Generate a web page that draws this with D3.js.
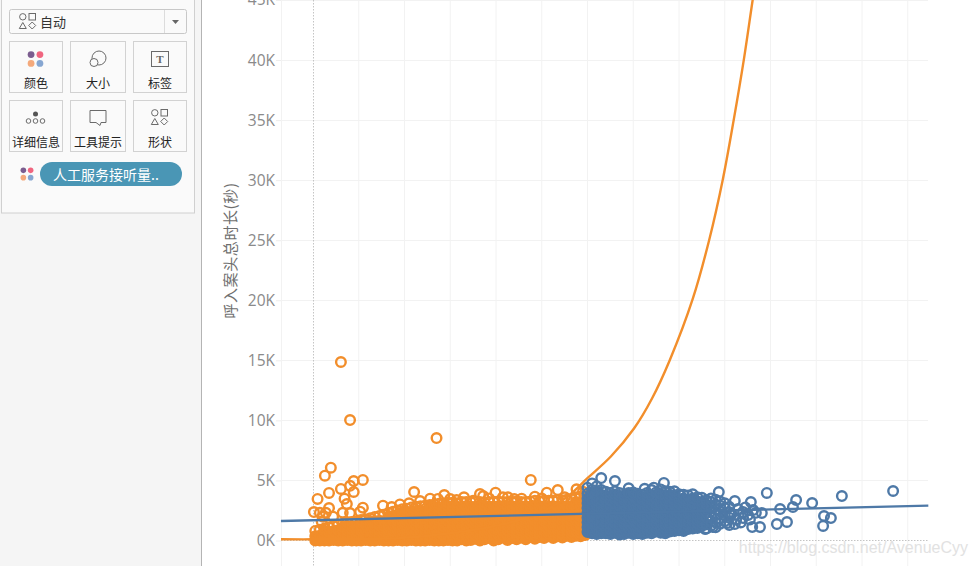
<!DOCTYPE html>
<html><head><meta charset="utf-8">
<script src="https://cdn.jsdelivr.net/npm/d3@7/dist/d3.min.js"></script>
<style>html,body{margin:0;padding:0;background:#fff;overflow:hidden}svg{display:block}</style>
</head><body><svg id="c" width="977" height="566"></svg>
<script>
const yTicks = [0,5,10,15,20,25,30,35,40,45];
const xGrid = [100,200,300,400,500,600,700,800,900,1000,1100,1200,1300];
const yTitle = "呼入案头总时长(秒)";
const pillText = "人工服务接听量..";
const cardLabels = ["颜色","大小","标签","详细信息","工具提示","形状"];
const orangeTrend = [[-70,.1],[0,.1],[190,.2],[300,.6],[409,1.3],[496,2.3],[555,3.62],[601,5.23],[651,6.99],[702,9.34],[741,11.82],[780,15.03],[830,20.11],[866,25.02],[896,30.1],[920,35.1],[942,40.1],[961,45],[975,48.5]];
const blueTrend = [[-70,1.62],[1345,2.9]];
const orangeOutliers = [[61,14.86],[81,10.03],[270,8.53],[39,6.06],[26,5.4],[109,5.04],[89,4.95],[81,4.56],[61,4.29],[89,4.04],[35,3.96],[10,3.46],[69,3.48],[74,3.04],[35,2.7],[109,2.73],[2,2.37],[15,2.31],[28,2.31],[65,2.31],[81,2.29],[103,2.4],[22,1.98],[44,1.98],[19,1.56],[221,4.04],[476,5.04],[399,3.98],[511,3.98],[535,4.2],[365,3.87],[372,3.7],[287,3.79],[256,3.48],[234,3.29],[210,3.1],[190,3],[153,2.9],[172,2.79],[314,3.37],[330,3.6],[415,3.6],[426,3.6],[456,3.48],[485,3.65],[576,4.26],[590,4.06],[273,3.46],[350,3.3],[300,3.45],[385,3.5],[440,3.45],[500,3.5],[550,3.6]];
const orangeColumns = [
[5,[0,.35,.8]],[15,[0,.4,.9]],[25,[0,.4,.8,1.0]],[35,[0,.4,.7,1.1]],[45,[.05,.45,.8,1.2]],[55,[0,.4,.85,1.3]],[65,[0,.4,.8,1.1,1.4]],[75,[.05,.4,.8,1.2,1.5]],
[85,[0,.45,.9,1.2,1.55]],[95,[0,.4,.8,1.2,1.6]],[105,[0,.4,.8,1.25,1.7]],[115,[.05,.4,.85,1.3,1.75]],[125,[0,.4,.8,1.2,1.6,1.85]],[135,[0,.4,.8,1.2,1.6,1.95]],[145,[.05,.45,.8,1.25,1.65,2.05]],[155,[0,.4,.8,1.2,1.6,2.15]],
[165,[0,.4,.85,1.2,1.65,2.0,2.3]],[175,[0,.4,.8,1.2,1.6,2.0,2.4]],[185,[.05,.4,.8,1.25,1.6,2.05,2.5]],[195,[0,.45,.8,1.2,1.6,2.0,2.35,2.6]],[205,[0,.4,.85,1.2,1.65,2.0,2.4,2.65]],[215,[.05,.4,.8,1.2,1.6,2.05,2.4,2.75]],[225,[0,.4,.8,1.25,1.6,2.0,2.4,2.8]],[235,[0,.45,.8,1.2,1.65,2.0,2.45,2.85]],
[245,[0,.4,.85,1.2,1.6,2.05,2.4,2.9]],[255,[.05,.4,.8,1.2,1.6,2.0,2.4,2.8,2.95]],[265,[0,.4,.8,1.25,1.6,2.0,2.45,2.8,3.0]],[275,[0,.45,.8,1.2,1.65,2.05,2.4,2.75,3.05]],[285,[0,.4,.85,1.2,1.6,2.0,2.4,2.8,3.1]],[295,[.05,.4,.8,1.2,1.6,2.0,2.45,2.85,3.15]],[305,[0,.4,.8,1.25,1.65,2.05,2.4,2.8,3.15]],[315,[0,.45,.8,1.2,1.6,2.0,2.4,2.8,3.1]],
[325,[.1,.4,.85,1.2,1.6,2.0,2.45,2.8,3.2]],[335,[0,.4,.8,1.2,1.65,2.05,2.4,2.85,3.2]],[345,[.05,.45,.8,1.25,1.6,2.0,2.4,2.8,3.2]],[355,[.15,.4,.8,1.2,1.6,2.0,2.45,2.8,3.25]],[365,[0,.4,.85,1.2,1.65,2.05,2.4,2.8,3.2]],[375,[.1,.45,.8,1.25,1.6,2.0,2.4,2.85,3.15]],[385,[.2,.4,.8,1.2,1.6,2.0,2.45,2.8,3.2]],[395,[0,.4,.8,1.2,1.65,2.05,2.4,2.8,3.2]],
[405,[.1,.45,.85,1.25,1.6,2.0,2.4,2.85,3.25]],[415,[.25,.4,.8,1.2,1.6,2.0,2.45,2.8,3.2]],[425,[.05,.4,.8,1.2,1.65,2.05,2.4,2.8,3.2]],[435,[.2,.45,.85,1.25,1.6,2.0,2.4,2.85,3.2]],[445,[.1,.4,.8,1.2,1.6,2.0,2.45,2.8,3.25]],[455,[.25,.4,.8,1.2,1.65,2.05,2.4,2.8,3.2]],[465,[.1,.45,.85,1.25,1.6,2.0,2.4,2.85,3.2]],[475,[.3,.5,.8,1.2,1.6,2.0,2.45,2.8,3.25]],
[485,[.15,.4,.8,1.2,1.65,2.05,2.4,2.8,3.3]],[495,[.3,.5,.85,1.25,1.6,2.0,2.4,2.85,3.25]],[505,[.2,.4,.8,1.2,1.6,2.0,2.45,2.8,3.3]],[515,[.35,.55,.8,1.2,1.65,2.05,2.4,2.8,3.3]],[525,[.2,.45,.85,1.25,1.6,2.0,2.4,2.85,3.3]],[535,[.35,.6,.8,1.2,1.6,2.0,2.45,2.8,3.35]],[545,[.25,.5,.8,1.2,1.65,2.05,2.4,2.8,3.35]],[555,[.4,.6,.85,1.25,1.6,2.0,2.4,2.85,3.4]],
[565,[.3,.55,.8,1.2,1.6,2.0,2.45,2.8,3.45]],[575,[.4,.65,.8,1.2,1.65,2.05,2.4,2.8,3.2,3.6]],[585,[.35,.6,.85,1.25,1.6,2.0,2.4,2.85,3.2,3.65]],[595,[.45,.7,.8,1.2,1.6,2.0,2.45,2.8,3.25,3.7]]
];
const blueColumns = [
[600,[.7,1.1,1.5,1.9,2.3,2.7,3.1,3.5,3.9]],[610,[.6,.95,1.4,1.8,2.2,2.6,3,3.4,3.85,4.2]],[620,[.55,.9,1.3,1.7,2.1,2.5,2.9,3.3,3.7,4.1,4.5]],[630,[.6,1,1.4,1.8,2.2,2.6,3,3.4,3.8,4.2]],
[640,[.6,.95,1.35,1.75,2.15,2.55,2.95,3.35,3.75,4.05]],[650,[.55,.9,1.3,1.7,2.1,2.5,2.9,3.3,3.7,3.95]],[660,[.65,1,1.4,1.8,2.2,2.6,3,3.4,3.8,4.1]],[670,[.5,.9,1.3,1.7,2.1,2.5,2.9,3.3,3.7,3.95]],
[680,[.55,.95,1.35,1.75,2.15,2.55,2.95,3.35,3.75]],[690,[.65,1,1.4,1.8,2.2,2.6,3,3.4,3.8,3.95]],[700,[.55,.9,1.3,1.7,2.1,2.5,2.9,3.3,3.7,4.0]],[710,[.6,.95,1.35,1.75,2.15,2.55,2.95,3.35,3.75,3.9]],
[720,[.55,1,1.4,1.8,2.2,2.6,3,3.4,3.8]],[730,[.65,.9,1.3,1.7,2.1,2.5,2.9,3.3,3.7,3.95]],[740,[.6,.95,1.35,1.75,2.15,2.55,2.95,3.35,3.75,4.2]],[750,[.75,1,1.4,1.8,2.2,2.6,3,3.4,3.8,4.0]],
[760,[.65,1.05,1.45,1.85,2.25,2.65,3.05,3.45,3.85,4.25]],[770,[.6,1,1.3,1.7,2.1,2.5,2.9,3.3,3.7,4.1]],[780,[.75,1.05,1.4,1.8,2.2,2.6,3,3.4,3.8,4.05]],[790,[.8,1.1,1.45,1.75,2.15,2.55,2.95,3.35,3.75,4.1]],
[800,[.85,1.15,1.5,1.85,2.25,2.65,3.05,3.45,3.85]],[810,[.8,1.2,1.5,1.9,2.3,2.7,3.1,3.5,3.8]],[820,[.95,1.25,1.55,1.9,2.2,2.6,3,3.4,3.75]],[830,[1,1.3,1.65,2,2.35,2.75,3.15,3.5,3.85]],
[840,[1.05,1.4,1.7,2.05,2.45,2.85,3.25,3.6]],[850,[1.2,1.45,1.8,2.15,2.5,2.9,3.2,3.55]],[860,[1,1.35,1.9,2.3,2.65,3,3.35]],[870,[1.25,1.6,2,2.45,2.85,3.2,3.5]],[880,[1.1,1.5,2.15,2.6,3,3.4]],[890,[1.4,1.85,2.4,2.9,3.25]],
[900,[1.6,2.1,2.7,3.1]],[910,[1.3,1.9,2.35,2.8]]
];
const blueOutliers = [[1268,4.12],[1156,3.7],[1091,3.12],[1056,3.37],[1049,2.79],[1117,2.04],[1132,1.87],[1115,1.21],[1036,1.54],[1014,1.37],[1021,2.62],[992,3.96],[977,1.12],[960,1.12],[981,2.29],[957,3.2],[922,3.29],[887,4.04],[767,4.79],[660,4.95],[630,5.2],[940,2.37],[962,2.54],[940,1.87],[905,1.46],[922,1.37],[857,.96],[874,1.12],[951,2.12],[929,2.62],[915,2.2],[925,1.75],[935,1.5],[945,2.75],[968,2.3],[955,1.75],[610,4.75],[600,4.4],[690,4.35],[725,4.3],[745,4.4]];

const GREY = "#8a8a8a";
const x = d3.scaleLinear().domain([0,1300]).range([313,313+13*45.75]);
const y = d3.scaleLinear().domain([0,45]).range([540.5,0]);
const svg = d3.select("#c");
const FONT = "'Noto Sans CJK SC','Noto Sans',sans-serif";

// grid
const plot = svg.append("g");
plot.selectAll("line.v").data(xGrid).join("line")
  .attr("x1",d=>x(d)).attr("x2",d=>x(d)).attr("y1",0).attr("y2",566).attr("stroke","#f2f2f2");
plot.append("line").attr("x1",281.5).attr("x2",281.5).attr("y1",0).attr("y2",566).attr("stroke","#f2f2f2");
plot.selectAll("line.h").data(yTicks.slice(1)).join("line")
  .attr("x1",281).attr("x2",928).attr("y1",d=>Math.round(y(d))+.5).attr("y2",d=>Math.round(y(d))+.5).attr("stroke","#f2f2f2");
plot.append("line").attr("x1",313.5).attr("x2",313.5).attr("y1",0).attr("y2",566).attr("stroke","#c4c4c4").attr("stroke-dasharray","1.5 1.5");
plot.append("line").attr("x1",281).attr("x2",928).attr("y1",540.5).attr("y2",540.5).attr("stroke","#c4c4c4").attr("stroke-dasharray","1.5 1.5");

// y axis
const axis = svg.append("g").attr("transform","translate(281,0)")
  .call(d3.axisLeft(y).tickValues(yTicks).tickFormat(d=>d+"K").tickSize(5).tickPadding(1));
axis.select(".domain").remove();
axis.selectAll(".tick line").attr("stroke","#eeeeee");
axis.selectAll("text").attr("fill",GREY).style("font","15.5px 'Open Sans',sans-serif");

svg.append("text").attr("transform","translate(236,250.5) rotate(-90)").attr("text-anchor","middle")
  .attr("fill","#6f6f6f").attr("letter-spacing","0.6").style("font","15px "+FONT).text(yTitle);

// points: where marks overlap completely the inside of the cloud reads as solid,
// so everything below a column's top mark is filled; the rim stays as open rings.
const cloud = (cols,solidUntil) => cols.flatMap(([vx,ys])=>ys.map((v,i)=>[vx,v,vx<=solidUntil && i<ys.length-1]));
function pts(data,color){
  svg.append("g").selectAll("circle").data(data).join("circle")
    .attr("cx",d=>x(d[0])).attr("cy",d=>y(d[1])).attr("r",4.8)
    .attr("fill",d=>d[2]?color:"none").attr("stroke",color).attr("stroke-width",2.4);
}
pts(orangeOutliers.concat(cloud(orangeColumns,600)),"#f28e2b");
pts(blueOutliers.concat(cloud(blueColumns,850)),"#4e79a7");

// trend lines
const line = d3.line().x(d=>x(d[0])).y(d=>y(d[1]));
svg.append("path").datum(orangeTrend).attr("d",line.curve(d3.curveCatmullRom)).attr("fill","none").attr("stroke","#f28e2b").attr("stroke-width",2.4);
svg.append("path").datum(blueTrend).attr("d",line.curve(d3.curveLinear)).attr("fill","none").attr("stroke","#4e79a7").attr("stroke-width",2.4);

// watermark
svg.append("text").attr("x",968).attr("y",553).attr("text-anchor","end").attr("fill","#e2e2e2")
  .style("font","16px 'Liberation Sans',sans-serif").text("https://blog.csdn.net/AvenueCyy");

// left panel
const p = svg.append("g");
p.append("rect").attr("width",201).attr("height",566).attr("fill","#f5f5f5");
p.append("line").attr("x1",201.5).attr("x2",201.5).attr("y1",0).attr("y2",566).attr("stroke","#b4b4b4");
p.append("rect").attr("x",1.5).attr("y",-2).attr("width",193).attr("height",215).attr("fill","#fafafa").attr("stroke","#d0d0d0");
p.append("rect").attr("x",9.5).attr("y",9.5).attr("width",177).attr("height",24).attr("rx",2).attr("fill","#fafafa").attr("stroke","#c8c8c8");
p.append("line").attr("x1",164.5).attr("x2",164.5).attr("y1",10).attr("y2",33).attr("stroke","#dcdcdc");
p.append("path").attr("d","M172 20h7l-3.5 4z").attr("fill","#666");
const st = {fill:"none",stroke:"#6a6a6a"};
function shapes(cx,cy){
  const g=p.append("g").attr("fill",st.fill).attr("stroke",st.stroke);
  g.append("circle").attr("cx",cx-4.7).attr("cy",cy-4.7).attr("r",3.2);
  g.append("rect").attr("x",cx+1.5).attr("y",cy-8).attr("width",6.5).attr("height",6.5);
  g.append("path").attr("d",`M${cx-4.7} ${cy+1}l3.5 6h-7z`);
  g.append("path").attr("d",`M${cx+4.7} ${cy+.5}l3.5 3.5l-3.5 3.5l-3.5-3.5z`);
}
shapes(27.5,21.5);
p.append("text").attr("x",40).attr("y",27).attr("fill","#333").style("font","13px "+FONT).text("自动");
const boxes=[[9.5,41.5,53],[70.5,41.5,55],[133.5,41.5,53],[9.5,100.5,53],[70.5,100.5,55],[133.5,100.5,53]];
boxes.forEach((b,i)=>{
  p.append("rect").attr("x",b[0]).attr("y",b[1]).attr("width",b[2]).attr("height",51).attr("fill","#fafafa").attr("stroke","#d2d2d2");
  p.append("text").attr("x",b[0]+b[2]/2).attr("y",b[1]+46).attr("text-anchor","middle").attr("fill","#222").style("font","12px "+FONT).text(cardLabels[i]);
});
function palette(cx,cy,r){
  [[-1,-1,"#7b5d8f"],[1,-1,"#f0657f"],[-1,1,"#f4a97b"],[1,1,"#86a6d1"]].forEach(a=>
    p.append("circle").attr("cx",cx+a[0]*r*1.3).attr("cy",cy+a[1]*r*1.3).attr("r",r).attr("fill",a[2]));
}
palette(35.5,59,3.4);
const ic=p.append("g").attr("fill","none").attr("stroke","#6a6a6a");
ic.append("circle").attr("cx",99).attr("cy",58).attr("r",7);
ic.append("circle").attr("cx",94).attr("cy",62.5).attr("r",4).attr("fill","#fafafa");
ic.append("rect").attr("x",151.5).attr("y",51.5).attr("width",17).attr("height",15);
p.append("text").attr("x",160).attr("y",63).attr("text-anchor","middle").attr("fill","#666").style("font","bold 11px 'Liberation Serif',serif").text("T");
p.append("circle").attr("cx",35.5).attr("cy",114).attr("r",2.5).attr("fill","#555");
[28.5,35.5,42.5].forEach(c=>ic.append("circle").attr("cx",c).attr("cy",121).attr("r",2.3));
ic.append("path").attr("d","M90 110.5h16v12h-5l-1 3l-4-3h-6z");
shapes(159.5,117.5);
palette(27,174,2.8);
p.append("rect").attr("x",40).attr("y",162).attr("width",142).attr("height",24).attr("rx",12).attr("fill","#4a96b5");
p.append("text").attr("x",53).attr("y",180).attr("fill","#fff").style("font","14px "+FONT).text(pillText);
</script></body></html>
